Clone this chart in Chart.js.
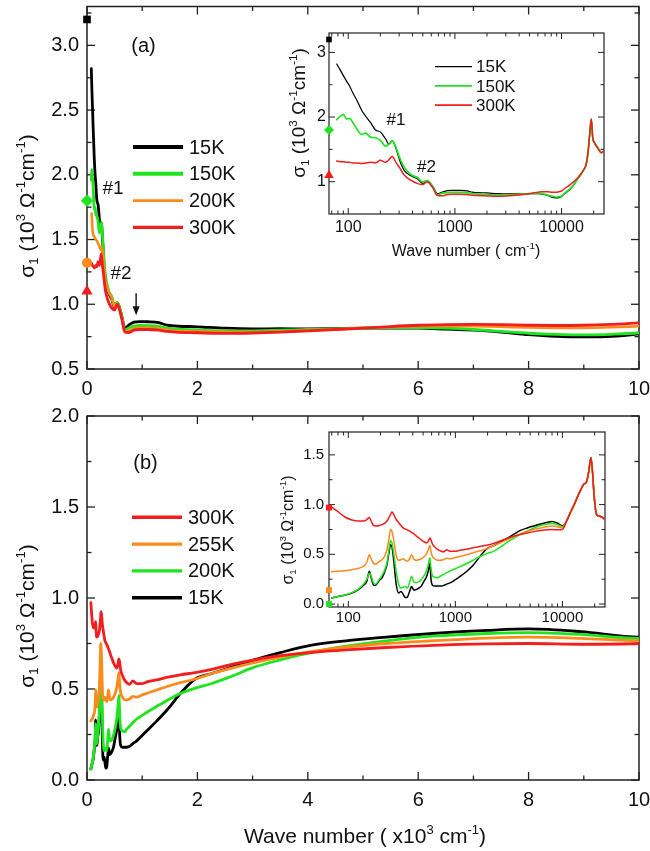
<!DOCTYPE html>
<html>
<head>
<meta charset="utf-8">
<script src="https://cdn.jsdelivr.net/npm/chart.js@4.4.0/dist/chart.umd.min.js"></script>
<style>
  html, body { margin: 0; padding: 0; background: #fff; }
  #wrap { position: relative; width: 650px; height: 851px; overflow: hidden; background: #fff; }
  #wrap canvas { position: absolute; left: 0; top: 0; }
</style>
</head>
<body>
<div id="wrap">
  <canvas id="mainA" width="650" height="851"></canvas>
  <canvas id="mainB" width="650" height="851"></canvas>
  <canvas id="insetA" width="650" height="851"></canvas>
  <canvas id="insetB" width="650" height="851"></canvas>
</div>
<script>
// ---------- Sample (a): optical conductivity, wave number in cm^-1, sigma1 in 10^3 Ohm^-1 cm^-1 ----------
const waveA = [78, 84, 90, 96, 103, 110, 122, 133, 146, 161,
  180, 200, 224, 241, 258, 282, 302, 336, 388, 448,
  499, 549, 618, 688, 760, 850, 950, 1100, 1300, 1450,
  1600, 2000, 2500, 3000, 3500, 4000, 4500, 5000, 5500, 6000,
  6500, 7000, 7500, 8000, 8500, 9000, 9500, 10000,
  11000, 12000, 13000, 14000, 15000, 16000, 17000, 17700, 18400, 19000,
  19600, 20400, 21900, 23500, 25000];
const sigA15K = [2.82, 2.73, 2.64, 2.56, 2.48, 2.38, 2.24, 2.11, 2.01, 1.92,
  1.80, 1.77, 1.66, 1.58, 1.63, 1.50, 1.34, 1.17, 1.09, 1.04,
  0.975, 1.01, 0.93, 0.815, 0.84, 0.862, 0.866, 0.865, 0.858, 0.838,
  0.832, 0.826, 0.815, 0.81, 0.811, 0.81, 0.812, 0.815, 0.815, 0.815,
  0.808, 0.80, 0.785, 0.765, 0.752, 0.748, 0.752, 0.772,
  0.83, 0.88, 0.95, 1.03, 1.10, 1.17, 1.26, 1.45, 1.75, 1.97,
  1.68, 1.60, 1.52, 1.45, 1.47];
const sigA150K = [1.96, 2.01, 2.04, 1.97, 1.98, 1.92, 1.80, 1.73, 1.75, 1.69,
  1.68, 1.64, 1.55, 1.58, 1.63, 1.52, 1.38, 1.22, 1.11, 1.06,
  0.995, 1.015, 0.93, 0.80, 0.818, 0.832, 0.836, 0.835, 0.83, 0.815,
  0.81, 0.80, 0.795, 0.795, 0.80, 0.805, 0.81, 0.815, 0.82, 0.82,
  0.815, 0.805, 0.79, 0.776, 0.767, 0.763, 0.768, 0.78,
  0.84, 0.89, 0.955, 1.03, 1.10, 1.17, 1.26, 1.45, 1.75, 1.97,
  1.68, 1.60, 1.52, 1.45, 1.47];
const sigA200K = [null, 1.70, 1.66, 1.60, 1.56, 1.54, 1.53, 1.52, 1.51, 1.50,
  1.49, 1.47, 1.45, 1.42, 1.44, 1.40, 1.30, 1.18, 1.10, 1.05,
  0.98, 1.01, 0.92, 0.79, 0.795, 0.812, 0.818, 0.818, 0.813, 0.80,
  0.796, 0.79, 0.785, 0.785, 0.79, 0.80, 0.806, 0.815, 0.824, 0.83,
  0.832, 0.83, 0.826, 0.82, 0.818, 0.818, 0.822, 0.83,
  null, null, null, null, null, null, null, null, null, null,
  null, null, null, null, null];
const sigA300K = [1.32, 1.31, 1.31, 1.30, 1.30, 1.29, 1.29, 1.28, 1.29, 1.30,
  1.29, 1.33, 1.30, 1.34, 1.39, 1.29, 1.22, 1.10, 1.02, 0.97,
  0.955, 1.0, 0.91, 0.785, 0.782, 0.80, 0.805, 0.805, 0.80, 0.79,
  0.785, 0.78, 0.775, 0.778, 0.785, 0.795, 0.805, 0.815, 0.828, 0.838,
  0.843, 0.845, 0.843, 0.838, 0.836, 0.838, 0.845, 0.856,
  0.91, 0.95, 1.0, 1.05, 1.11, 1.18, 1.27, 1.45, 1.75, 1.97,
  1.68, 1.60, 1.52, 1.45, 1.47];
// DC conductivity of sample (a): 15K, 150K, 200K, 300K
const dcTempsA = ['15K', '150K', '200K', '300K'];
const dcValuesA = [3.2, 1.8, 1.32, 1.1];

// ---------- Sample (b) ----------
const waveB = [70, 80, 93, 108, 124, 139, 149, 157, 164, 172,
  180, 195, 206, 218, 230, 240, 248, 255, 266, 280,
  295, 310, 325, 340, 356, 372, 390, 410, 430, 455,
  480, 510, 540, 560, 578, 592, 610, 640, 680, 720,
  770, 830, 900, 1000, 1100, 1265, 1465, 1690, 1960, 2260,
  2620, 3030, 3500, 4050, 4690, 5420, 6270, 7250, 8000, 8950,
  10000, 11000, 12000, 13000, 14000, 15000, 15700, 16900, 17600, 18500,
  19200, 19800, 20900, 22000, 23300, 25000];
const sigB300K = [0.975, 0.93, 0.875, 0.845, 0.835, 0.835, 0.85, 0.87, 0.83, 0.79,
  0.785, 0.79, 0.80, 0.81, 0.835, 0.87, 0.90, 0.925, 0.90, 0.85,
  0.82, 0.79, 0.765, 0.755, 0.745, 0.735, 0.72, 0.705, 0.685, 0.665,
  0.645, 0.625, 0.615, 0.635, 0.665, 0.645, 0.605, 0.575, 0.55, 0.535,
  0.525, 0.545, 0.53, 0.53, 0.54, 0.55, 0.565, 0.578, 0.59, 0.608,
  0.635, 0.66, 0.683, 0.70, 0.715, 0.728, 0.74, 0.748, 0.75, 0.746,
  0.75, 0.84, 0.93, 1.01, 1.09, 1.16, 1.20, 1.235, 1.33, 1.47,
  1.30, 1.08, 0.90, 0.885, 0.875, 0.85];
const sigB255K = [0.325, 0.33, 0.335, 0.345, 0.36, 0.38, 0.42, 0.495, 0.45, 0.41,
  0.40, 0.43, 0.445, 0.48, 0.55, 0.66, 0.75, 0.735, 0.64, 0.49,
  0.44, 0.445, 0.455, 0.44, 0.43, 0.45, 0.495, 0.45, 0.44, 0.445,
  0.455, 0.475, 0.51, 0.55, 0.59, 0.53, 0.48, 0.455, 0.44, 0.44,
  0.445, 0.46, 0.455, 0.468, 0.478, 0.495, 0.515, 0.535, 0.555, 0.585,
  0.615, 0.645, 0.675, 0.705, 0.73, 0.75, 0.765, 0.78, 0.785, 0.778,
  0.765, 0.84, 0.93, 1.01, 1.09, 1.16, 1.20, 1.235, 1.33, 1.47,
  1.30, 1.08, 0.90, 0.885, 0.875, 0.85];
const sigB200K = [0.06, 0.075, 0.09, 0.115, 0.15, 0.20, 0.25, 0.31, 0.28, 0.21,
  0.20, 0.25, 0.285, 0.34, 0.42, 0.55, 0.64, 0.62, 0.50, 0.33,
  0.20, 0.16, 0.17, 0.175, 0.16, 0.21, 0.28, 0.22, 0.215, 0.225,
  0.245, 0.285, 0.34, 0.40, 0.465, 0.36, 0.285, 0.27, 0.265, 0.28,
  0.295, 0.315, 0.335, 0.355, 0.375, 0.405, 0.44, 0.475, 0.505, 0.53,
  0.57, 0.62, 0.66, 0.70, 0.735, 0.765, 0.79, 0.805, 0.81, 0.80,
  0.778, 0.84, 0.93, 1.01, 1.09, 1.16, 1.20, 1.235, 1.33, 1.47,
  1.30, 1.08, 0.90, 0.885, 0.875, 0.85];
const sigB15K = [0.06, 0.075, 0.09, 0.11, 0.145, 0.19, 0.23, 0.33, 0.26, 0.19,
  0.19, 0.24, 0.26, 0.32, 0.40, 0.52, 0.595, 0.58, 0.43, 0.20,
  0.11, 0.125, 0.10, 0.065, 0.07, 0.12, 0.175, 0.14, 0.145, 0.16,
  0.18, 0.23, 0.28, 0.34, 0.41, 0.25, 0.19, 0.18, 0.18, 0.18,
  0.185, 0.20, 0.215, 0.245, 0.275, 0.325, 0.39, 0.475, 0.555, 0.585,
  0.62, 0.66, 0.70, 0.74, 0.765, 0.785, 0.805, 0.822, 0.83, 0.815,
  0.785, 0.84, 0.93, 1.01, 1.09, 1.16, 1.20, 1.235, 1.33, 1.47,
  1.30, 1.08, 0.90, 0.885, 0.875, 0.85];
// DC conductivity of sample (b): 300K, 255K, 200K
const dcTempsB = ['300K', '255K', '200K'];
const dcValuesB = [0.97, 0.14, 0.0];

// Axis tick values
const linearXTicks = [0, 2, 4, 6, 8, 10];
const logXTicks = [100, 1000, 10000];

// ---------- styling ----------
const FONT = '"Liberation Sans", Arial, Helvetica, sans-serif';
Chart.defaults.font.family = FONT;
Chart.defaults.color = '#111';
const BLACK = '#000000', GREEN = '#1fe41f', ORANGE = '#ff8a1c', RED = '#f21d1d';
const INSET_MIN = 66, INSET_MAX = 25000;

const SIGMA_TITLE = [['σ', ''], ['1', 'sub'], [' (10', ''], ['3', 'sup'], [' Ω', ''], ['-1', 'sup'], ['cm', ''], ['-1', 'sup'], [')', '']];
const X_TITLE_MAIN = [['Wave number ( x10', ''], ['3', 'sup'], [' cm', ''], ['-1', 'sup'], [')', '']];
const X_TITLE_INSET = [['Wave number ( cm', ''], ['-1', 'sup'], [')', '']];

function drawRich(ctx, segs, cx, cy, size, rot, color) {
  const parts = segs.map(([t, k]) => {
    const s = k ? size * 0.62 : size;
    ctx.font = s + 'px ' + FONT;
    return { t, k, s, w: ctx.measureText(t).width };
  });
  const total = parts.reduce((acc, p) => acc + p.w, 0);
  ctx.save();
  ctx.translate(cx, cy);
  if (rot) ctx.rotate(rot);
  ctx.fillStyle = color || '#111';
  ctx.textAlign = 'left';
  ctx.textBaseline = 'alphabetic';
  let x = -total / 2;
  const base = size * 0.36;
  parts.forEach(p => {
    ctx.font = p.s + 'px ' + FONT;
    const dy = p.k === 'sup' ? -size * 0.42 : (p.k === 'sub' ? size * 0.2 : 0);
    ctx.fillText(p.t, x, base + dy);
    x += p.w;
  });
  ctx.restore();
}

function minorValues(scale, spec, majors) {
  const out = [];
  if (!spec) return out;
  const min = scale.min, max = scale.max;
  const isMajor = v => majors.some(m => Math.abs(m - v) < 1e-9 * Math.max(1, Math.abs(m)));
  if (spec === 'log') {
    for (let k = Math.floor(Math.log10(min)); k <= Math.ceil(Math.log10(max)); k++) {
      for (let m = 2; m <= 9; m++) {
        const v = m * Math.pow(10, k);
        if (v > min && v < max && !isMajor(v)) out.push(v);
      }
    }
  } else {
    const start = Math.ceil(min / spec - 1e-9) * spec;
    for (let v = start; v < max - 1e-9; v += spec) {
      const r = Math.round(v * 1e6) / 1e6;
      if (r > min + 1e-9 && !isMajor(r)) out.push(r);
    }
  }
  return out;
}

// Frame, inward ticks, texts, legend and arrows
const decor = {
  id: 'decor',
  beforeDatasetsDraw(chart, args, o) {
    const ctx = chart.ctx, a = chart.chartArea;
    const xs = chart.scales.x, ys = chart.scales.y;
    ctx.save();
    ctx.strokeStyle = o.color;
    ctx.lineWidth = o.tickWidth;
    const seg = (x1, y1, x2, y2) => { ctx.beginPath(); ctx.moveTo(x1, y1); ctx.lineTo(x2, y2); ctx.stroke(); };
    const xt = (v, len) => { const p = xs.getPixelForValue(v); seg(p, a.bottom, p, a.bottom - len); seg(p, a.top, p, a.top + len); };
    const yt = (v, len) => { const p = ys.getPixelForValue(v); seg(a.left, p, a.left + len, p); seg(a.right, p, a.right - len, p); };
    const xMaj = xs.ticks.map(t => t.value), yMaj = ys.ticks.map(t => t.value);
    xMaj.forEach(v => xt(v, o.major));
    yMaj.forEach(v => yt(v, o.major));
    minorValues(xs, o.xMinor, xMaj).forEach(v => xt(v, o.minor));
    minorValues(ys, o.yMinor, yMaj).forEach(v => yt(v, o.minor));
    ctx.lineWidth = o.frameWidth;
    ctx.strokeRect(a.left, a.top, a.right - a.left, a.bottom - a.top);
    ctx.restore();
  },
  afterDatasetsDraw(chart, args, o) {
    const ctx = chart.ctx;
    const xs = chart.scales.x, ys = chart.scales.y;
    ctx.save();
    (o.texts || []).forEach(t => drawRich(ctx, t.segs, t.x, t.y, t.size, t.rot, '#111'));
    (o.arrows || []).forEach(ar => {
      const x = xs.getPixelForValue(ar.x), y0 = ys.getPixelForValue(ar.y0), y1 = ys.getPixelForValue(ar.y1);
      ctx.strokeStyle = '#111'; ctx.fillStyle = '#111'; ctx.lineWidth = 1.4;
      ctx.beginPath(); ctx.moveTo(x, y0); ctx.lineTo(x, y1 - 7); ctx.stroke();
      ctx.beginPath(); ctx.moveTo(x - 3.5, y1 - 9); ctx.lineTo(x + 3.5, y1 - 9); ctx.lineTo(x, y1); ctx.closePath(); ctx.fill();
    });
    const lg = o.legend;
    if (lg) {
      lg.items.forEach((di, i) => {
        const ds = chart.data.datasets[di];
        const y = lg.y + i * lg.dy;
        ctx.strokeStyle = ds.borderColor;
        ctx.lineWidth = lg.widths[i];
        ctx.lineCap = 'butt';
        ctx.beginPath(); ctx.moveTo(lg.x, y); ctx.lineTo(lg.x + lg.len, y); ctx.stroke();
        ctx.fillStyle = '#111';
        ctx.font = lg.size + 'px ' + FONT;
        ctx.textAlign = 'left';
        ctx.textBaseline = 'middle';
        ctx.fillText(ds.label, lg.x + lg.len + lg.gap, y + 1);
      });
    }
    ctx.restore();
  }
};
Chart.register(decor);

// ---------- helpers ----------
function pts(wave, sig, div) {
  const out = [];
  wave.forEach((w, i) => { if (sig[i] != null) out.push({ x: w / div, y: sig[i] }); });
  return out;
}
function curve(label, wave, sig, div, color, width, order) {
  return { label, data: pts(wave, sig, div), borderColor: color, backgroundColor: color,
    borderWidth: width, pointRadius: 0, pointHoverRadius: 0, cubicInterpolationMode: 'monotone',
    borderJoinStyle: 'round', borderCapStyle: 'round', order };
}
function dcMark(label, x, y, color, style, r) {
  return { type: 'scatter', label, data: [{ x, y }], pointStyle: style, pointRadius: r,
    pointHoverRadius: r, backgroundColor: color, borderColor: color, borderWidth: 0, clip: false, order: 0 };
}
function fixSize(size) {
  return s => {
    if (s.isHorizontal()) s.height = size; else s.width = size;
    s.paddingLeft = 0; s.paddingRight = 0; s.paddingTop = 0; s.paddingBottom = 0;
  };
}
function linAxis(min, max, step, digits, fontSize, pad, size, majors) {
  const ax = { type: 'linear', min, max,
    grid: { display: false, drawTicks: false }, border: { display: false },
    ticks: { stepSize: step, includeBounds: false, autoSkip: false, maxRotation: 0, padding: pad,
      font: { size: fontSize }, color: '#111', callback: v => Number(v).toFixed(digits) },
    afterFit: fixSize(size) };
  if (majors) ax.afterBuildTicks = s => { s.ticks = majors.map(v => ({ value: v })); };
  return ax;
}
function logAxis(min, max, majors, fontSize, pad, size) {
  return { type: 'logarithmic', min, max,
    grid: { display: false, drawTicks: false }, border: { display: false },
    afterBuildTicks: s => { s.ticks = majors.map(v => ({ value: v })); },
    ticks: { autoSkip: false, maxRotation: 0, padding: pad, font: { size: fontSize }, color: '#111',
      callback: v => String(v) },
    afterFit: fixSize(size) };
}
function baseOptions(padding, scales, decorOpts) {
  return { responsive: false, animation: false, events: [], layout: { padding },
    plugins: { legend: { display: false }, tooltip: { enabled: false }, decor: decorOpts },
    scales };
}

// ---------- panel (a), main ----------
new Chart(document.getElementById('mainA'), {
  type: 'line',
  data: { datasets: [
    curve('15K', waveA, sigA15K, 1000, BLACK, 2.8, 4),
    curve('150K', waveA, sigA150K, 1000, GREEN, 2.8, 3),
    curve('200K', waveA, sigA200K, 1000, ORANGE, 2.6, 2),
    curve('300K', waveA, sigA300K, 1000, RED, 2.8, 1),
    dcMark(dcTempsA[0], 0, dcValuesA[0], BLACK, 'rect', 5.4),
    dcMark(dcTempsA[1], 0, dcValuesA[1], GREEN, 'rectRot', 6.2),
    dcMark(dcTempsA[2], 0, dcValuesA[2], ORANGE, 'circle', 5),
    dcMark(dcTempsA[3], 0, dcValuesA[3], RED, 'triangle', 6.5)
  ] },
  options: baseOptions({ left: 27, top: 5, right: 11, bottom: 442 }, {
    x: linAxis(0, 10, 2, 0, 20, 8, 40, linearXTicks),
    y: linAxis(0.5, 3.3, 0.5, 1, 20, 8, 60)
  }, {
    color: '#222', frameWidth: 1.5, tickWidth: 1.3, major: 8, minor: 4.5, xMinor: 1, yMinor: 0.25,
    texts: [
      { segs: [['(a)', '']], x: 143.5, y: 45, size: 20 },
      { segs: [['#1', '']], x: 113, y: 187, size: 19 },
      { segs: [['#2', '']], x: 121, y: 272, size: 19 },
      { segs: SIGMA_TITLE, x: 26, y: 206, size: 21, rot: -Math.PI / 2 }
    ],
    arrows: [{ x: 0.89, y0: 1.085, y1: 0.915 }],
    legend: { x: 133, y: 147, dy: 26.8, len: 50, gap: 6, size: 20, widths: [4, 4, 2.8, 3.2], items: [0, 1, 2, 3] }
  })
});

// ---------- panel (b), main ----------
new Chart(document.getElementById('mainB'), {
  type: 'line',
  data: { datasets: [
    curve('300K', waveB, sigB300K, 1000, RED, 2.8, 1),
    curve('255K', waveB, sigB255K, 1000, ORANGE, 2.8, 2),
    curve('200K', waveB, sigB200K, 1000, GREEN, 2.8, 3),
    curve('15K', waveB, sigB15K, 1000, BLACK, 2.8, 4)
  ] },
  options: baseOptions({ left: 27, top: 416, right: 11, bottom: 31 }, {
    x: linAxis(0, 10, 2, 0, 20, 8, 40, linearXTicks),
    y: linAxis(0, 2, 0.5, 1, 20, 8, 60)
  }, {
    color: '#222', frameWidth: 1.5, tickWidth: 1.3, major: 8, minor: 4.5, xMinor: 1, yMinor: 0.25,
    texts: [
      { segs: [['(b)', '']], x: 145.5, y: 462, size: 20 },
      { segs: SIGMA_TITLE, x: 26, y: 616, size: 21, rot: -Math.PI / 2 },
      { segs: X_TITLE_MAIN, x: 365, y: 835, size: 21 }
    ],
    legend: { x: 132, y: 517.3, dy: 26.8, len: 50, gap: 6, size: 20, widths: [3.6, 3.3, 3.3, 3.6], items: [0, 1, 2, 3] }
  })
});

// ---------- panel (a), inset on a log axis ----------
new Chart(document.getElementById('insetA'), {
  type: 'line',
  data: { datasets: [
    curve('15K', waveA, sigA15K, 1, BLACK, 1.2, 3),
    curve('150K', waveA, sigA150K, 1, GREEN, 1.7, 2),
    curve('300K', waveA, sigA300K, 1, RED, 1.5, 1),
    dcMark(dcTempsA[0], INSET_MIN, dcValuesA[0], BLACK, 'rect', 4),
    dcMark(dcTempsA[1], INSET_MIN, dcValuesA[1], GREEN, 'rectRot', 5),
    dcMark(dcTempsA[3], INSET_MIN, dcValuesA[3], RED, 'triangle', 5.5)
  ] },
  options: baseOptions({ left: 299, top: 33, right: 46, bottom: 607 }, {
    x: logAxis(INSET_MIN, INSET_MAX, logXTicks, 16, 4, 30),
    y: linAxis(0.5, 3.3, 1, 0, 16, 3, 30)
  }, {
    color: '#222', frameWidth: 1.2, tickWidth: 1, major: 6, minor: 3.5, xMinor: 'log', yMinor: 0.5,
    texts: [
      { segs: SIGMA_TITLE, x: 298, y: 113, size: 19, rot: -Math.PI / 2 },
      { segs: X_TITLE_INSET, x: 466, y: 250, size: 16 },
      { segs: [['#1', '']], x: 396, y: 119, size: 17 },
      { segs: [['#2', '']], x: 426.5, y: 166, size: 17 }
    ],
    legend: { x: 435, y: 66.7, dy: 19.2, len: 37, gap: 4, size: 17, widths: [1.2, 1.8, 1.6], items: [0, 1, 2] }
  })
});

// ---------- panel (b), inset on a log axis ----------
new Chart(document.getElementById('insetB'), {
  type: 'line',
  data: { datasets: [
    curve('300K', waveB, sigB300K, 1, RED, 1.5, 1),
    curve('255K', waveB, sigB255K, 1, ORANGE, 1.5, 2),
    curve('200K', waveB, sigB200K, 1, GREEN, 1.5, 3),
    curve('15K', waveB, sigB15K, 1, BLACK, 1.5, 4),
    dcMark(dcTempsB[0], INSET_MIN, dcValuesB[0], RED, 'rect', 4.2),
    dcMark(dcTempsB[1], INSET_MIN, dcValuesB[1], ORANGE, 'rect', 4.2),
    dcMark(dcTempsB[2], INSET_MIN, dcValuesB[2], GREEN, 'rect', 4.2)
  ] },
  options: baseOptions({ left: 299, top: 432, right: 45, bottom: 214 }, {
    x: logAxis(INSET_MIN, INSET_MAX, logXTicks, 15, 2, 30),
    y: linAxis(-0.03, 1.73, 0.5, 1, 15, 5, 30)
  }, {
    color: '#222', frameWidth: 1.2, tickWidth: 1, major: 6, minor: 3.5, xMinor: 'log', yMinor: 0.25,
    texts: [
      { segs: SIGMA_TITLE, x: 287, y: 530, size: 16, rot: -Math.PI / 2 }
    ]
  })
});
</script>
</body>
</html>
